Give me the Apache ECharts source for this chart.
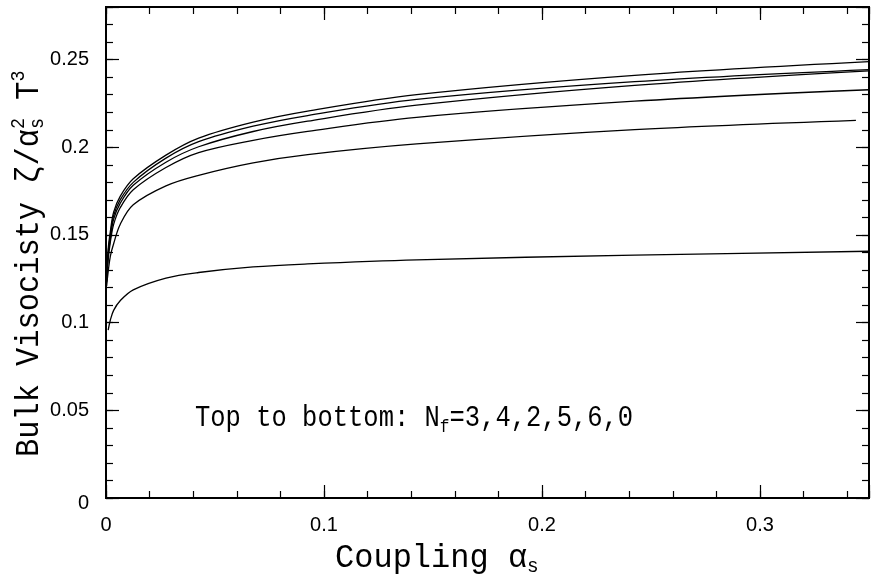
<!DOCTYPE html>
<html><head><meta charset="utf-8">
<script src="https://cdn.jsdelivr.net/npm/echarts@6/dist/echarts.min.js"></script>
<style>html,body{margin:0;padding:0;background:#fff}#c{width:872px;height:586px}</style>
</head><body><div id="c"></div>
<script>
// ---- data ----
const alphas   = [0.0003, 0.001, 0.002, 0.0035, 0.0065, 0.0125, 0.0275, 0.0425, 0.0675, 0.0925, 0.1425, 0.2425, 0.35];
const alphasNf6 = [0.0003, 0.001, 0.002, 0.0035, 0.0065, 0.0125, 0.0275, 0.0425, 0.0675, 0.0925, 0.1425, 0.2425, 0.344];
const alphasNf0 = [0.001, 0.002, 0.0035, 0.0065, 0.0125, 0.0275, 0.0425, 0.0675, 0.0925, 0.1425, 0.2425, 0.35];
const zetaNf3 = [0.126, 0.142, 0.152, 0.163, 0.172, 0.182, 0.1955, 0.2052, 0.2143, 0.2206, 0.2300, 0.2410, 0.2488];
const zetaNf4 = [0.125, 0.140, 0.150, 0.161, 0.170, 0.180, 0.1938, 0.2032, 0.2120, 0.2181, 0.2273, 0.2374, 0.2443];
const zetaNf2 = [0.124, 0.138, 0.148, 0.159, 0.168, 0.1783, 0.1915, 0.2003, 0.2090, 0.2149, 0.2240, 0.2353, 0.2436];
const zetaNf5 = [0.123, 0.136, 0.146, 0.156, 0.1655, 0.1758, 0.1885, 0.1970, 0.2040, 0.2091, 0.2171, 0.2263, 0.2328];
const zetaNf6 = [0.121, 0.129, 0.138, 0.145, 0.156, 0.1672, 0.1780, 0.1840, 0.1911, 0.1958, 0.2019, 0.2101, 0.2154];
const zetaNf0 = [0.0958, 0.1015, 0.107, 0.1125, 0.1187, 0.1254, 0.1286, 0.1318, 0.1335, 0.1358, 0.1385, 0.1407];
const xMin = 0, xMax = 0.35, xMajor = 0.1, xMinor = 0.02;
const yMin = 0, yMax = 0.28, yMajor = 0.05, yMinor = 0.01;
const xLabelMaxShown = 0.3, yLabelMaxShown = 0.25;
const noteText = ['Top to bottom: N', 'f', '=3,4,2,5,6,0'];
const xTitle = ['Coupling \u03b1', 's'];
const yTitle = ['Bulk Visocisty \u03b6/\u03b1', '2', 's', ' T', '3'];

// ---- chart ----
const chart = echarts.init(document.getElementById('c'));
const BLACK = '#000';
const MONO = '"Liberation Mono", monospace';
const SANS = '"Liberation Sans", Arial, sans-serif';

function fmt(limit, zeroStyle) {
  return v => (v > limit + 1e-9 ? '' : (v === 0 ? (zeroStyle ? '{z|0}' : '0') : String(+v.toFixed(2))));
}
function xAx(pos, interval, len, labels) {
  return {
    type: 'value', position: pos, min: xMin, max: xMax, interval: interval,
    axisLine: { show: true, onZero: false, lineStyle: { color: BLACK, width: 2 } },
    axisTick: { show: true, inside: true, length: len, lineStyle: { color: BLACK, width: 1.2 } },
    splitLine: { show: false },
    axisLabel: labels ? { show: true, color: BLACK, fontSize: 20, fontFamily: SANS, margin: 17, formatter: fmt(xLabelMaxShown, false) }
                      : { show: false }
  };
}
function yAx(pos, interval, len, labels) {
  return {
    type: 'value', position: pos, min: yMin, max: yMax, interval: interval,
    axisLine: { show: true, onZero: false, lineStyle: { color: BLACK, width: 2 } },
    axisTick: { show: true, inside: true, length: len, lineStyle: { color: BLACK, width: 1.2 } },
    splitLine: { show: false },
    axisLabel: labels ? {
        show: true, color: BLACK, fontSize: 20, fontFamily: SANS, margin: 17, formatter: fmt(yLabelMaxShown, true),
        rich: { z: { fontSize: 20, fontFamily: SANS, color: BLACK, padding: [11, 0, 0, 0] } }
      } : { show: false }
  };
}

function mk(xs, ys) { return xs.map((a, i) => [a, ys[i]]); }
function line(xs, ys) {
  return {
    type: 'line', xAxisIndex: 0, yAxisIndex: 0, data: mk(xs, ys),
    showSymbol: false, smooth: 0.35,
    lineStyle: { color: BLACK, width: 1.3 }, silent: true, animation: false
  };
}

// text run helper (measures with canvas so sub/superscripts follow their base)
const mctx = document.createElement('canvas').getContext('2d');
function run(parts, family) {
  let x = 0; const out = [];
  parts.forEach(p => {
    mctx.font = p.size + 'px ' + family;
    const w = mctx.measureText(p.t).width;
    out.push({
      type: 'text', x: x, y: p.dy || 0,
      style: { text: p.t, fontSize: p.size, fontFamily: family, fill: BLACK, align: 'left', verticalAlign: 'middle' }
    });
    if (!p.stack) x += w;
  });
  return out;
}

const option = {
  animation: false,
  backgroundColor: '#fff',
  grid: { left: 106, right: -5, top: 7, bottom: 88, containLabel: false },
  xAxis: [
    xAx('bottom', xMajor, 13, true),
    xAx('bottom', xMinor, 7, false),
    xAx('top', xMajor, 13, false),
    xAx('top', xMinor, 7, false)
  ],
  yAxis: [
    yAx('left', yMajor, 13, true),
    yAx('left', yMinor, 7, false),
    yAx('right', yMajor, 13, false),
    yAx('right', yMinor, 7, false)
  ],
  series: [
    line(alphas, zetaNf3),
    line(alphas, zetaNf4),
    line(alphas, zetaNf2),
    line(alphas, zetaNf5),
    line(alphasNf6, zetaNf6),
    line(alphasNf0, zetaNf0)
  ],
  graphic: [
    { type: 'group', x: 195, y: 418, scaleX: 0.85, children: run([
        { t: noteText[0], size: 30 },
        { t: noteText[1], size: 19, dy: 9 },
        { t: noteText[2], size: 30 }
      ], MONO) },
    { type: 'group', x: 335, y: 558, scaleX: 0.97, children: run([
        { t: xTitle[0], size: 33 },
        { t: xTitle[1], size: 20, dy: 9 }
      ], MONO) },
    { type: 'group', x: 29, y: 457, rotation: Math.PI / 2, scaleX: 0.92, children: run([
        { t: yTitle[0], size: 33 },
        { t: yTitle[1], size: 20, dy: -10, stack: true },
        { t: yTitle[2], size: 20, dy: 9 },
        { t: yTitle[3], size: 33 },
        { t: yTitle[4], size: 20, dy: -10 }
      ], MONO) }
  ]
};
chart.setOption(option);
</script>
</body></html>
